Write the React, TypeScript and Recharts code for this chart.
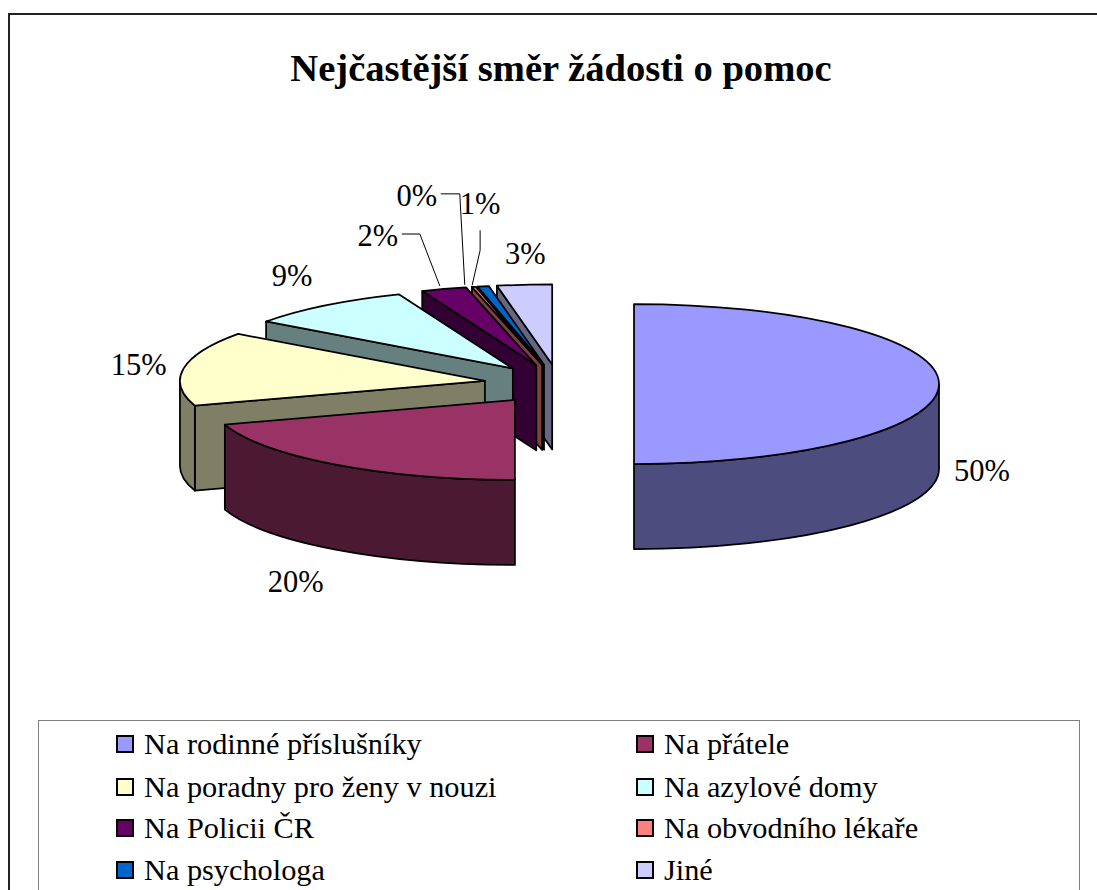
import { PieChart, Pie, Legend } from 'recharts'

const categories = [
  'Na rodinné příslušníky',
  'Na přátele',
  'Na poradny pro ženy v nouzi',
  'Na azylové domy',
  'Na Policii ČR',
  'Na obvodního lékaře',
  'Na psychologa',
  'Jiné',
]
const shares = [50, 20, 15, 8.9, 2.4, 0.2, 0.6, 2.9]
const colors = ['#9999FF', '#993366', '#FFFFCC', '#CCFFFF', '#660066', '#FF8080', '#0066CC', '#CCCCFF']

// Label offset from the rim point at the slice's mid angle
const labelNudge: Record<string, [number, number]> = {
  'Na rodinné příslušníky': [43, 87],
  'Na přátele': [-40, 117],
  'Na poradny pro ženy v nouzi': [-45, -3],
  'Na azylové domy': [-33, -29],
  'Na Policii ČR': [-66, -53],
  'Na obvodního lékaře': [-57, -91],
  'Na psychologa': [-3, -82],
  'Jiné': [1, -31],
}
const leaders: Record<string, [number, number][]> = {
  'Na Policii ČR': [[-42, -55], [-24, -55], [-4, -3]],
  'Na obvodního lékaře': [[-33, -93], [-14, -93], [-9, -2]],
  'Na psychologa': [[-3, -56], [-3, -36], [-11, -1]],
}

const RADIUS = 305
const TILT = 80 / 305
const DEPTH = 85
const EXPLODE = 75
const SERIF = '"Liberation Serif", "Times New Roman", serif'

// Reversed order and counter-clockwise sweep: same picture, but back slices paint first
const pieData = categories
  .map((name, i) => ({ name, value: shares[i], fill: colors[i] }))
  .reverse()

const rad = (deg: number) => (deg * Math.PI) / 180

const halve = (hex: string) => {
  const n = parseInt(hex.slice(1), 16)
  const part = (s: number) => Math.floor(((n >> s) & 255) / 2).toString(16).padStart(2, '0')
  return `#${part(16)}${part(8)}${part(0)}`
}

function Slice3D(props: any) {
  const { cx, cy, startAngle, endAngle, fill } = props
  const sweep = Math.abs(endAngle - startAngle)
  // angles clockwise from 12 o'clock
  let t0 = 90 - Math.max(startAngle, endAngle)
  t0 = ((t0 % 360) + 360) % 360
  const t1 = t0 + sweep
  const mid = t0 + sweep / 2
  const ox = cx + EXPLODE * Math.sin(rad(mid))
  const oy = cy - EXPLODE * TILT * Math.cos(rad(mid))
  const at = (t: number, drop = 0): [number, number] => [
    ox + RADIUS * Math.sin(rad(t)),
    oy - RADIUS * TILT * Math.cos(rad(t)) + drop,
  ]
  const arc = (to: [number, number], big: boolean, cw: boolean) =>
    `A ${RADIUS} ${RADIUS * TILT} 0 ${big ? 1 : 0} ${cw ? 1 : 0} ${to[0]} ${to[1]}`
  const wall = halve(fill)
  const line = { stroke: '#000', strokeWidth: 1.75, strokeLinejoin: 'round' as const }

  const face = (t: number) => {
    const p = at(t)
    const q = at(t, DEPTH)
    return `M ${ox} ${oy} L ${p[0]} ${p[1]} L ${q[0]} ${q[1]} L ${ox} ${oy + DEPTH} Z`
  }
  const rimFrom = Math.max(t0, 90)
  const rimTo = Math.min(t1, 270)
  const rim =
    rimTo > rimFrom
      ? `M ${at(rimFrom).join(' ')} ${arc(at(rimTo), false, true)} L ${at(rimTo, DEPTH).join(' ')} ${arc(at(rimFrom, DEPTH), false, false)} Z`
      : null

  return (
    <g>
      {Math.sin(rad(t0)) < -0.001 && <path d={face(t0)} fill={wall} {...line} />}
      {Math.sin(rad(t1)) > 0.001 && <path d={face(t1)} fill={wall} {...line} />}
      {rim && <path d={rim} fill={wall} {...line} />}
      <path
        d={`M ${ox} ${oy} L ${at(t0).join(' ')} ${arc(at(t1), sweep > 180, true)} Z`}
        fill={fill}
        {...line}
      />
    </g>
  )
}

function renderLabel(props: any) {
  const { cx, cy, midAngle, percent, name } = props
  const t = rad(90 - midAngle)
  const rx = cx + (RADIUS + EXPLODE) * Math.sin(t)
  const ry = cy - (RADIUS + EXPLODE) * TILT * Math.cos(t)
  const [dx, dy] = labelNudge[name]
  const path = leaders[name]
  return (
    <g>
      {path && (
        <polyline
          points={path.map(([a, b]) => `${rx + a},${ry + b}`).join(' ')}
          fill="none"
          stroke="#000"
          strokeWidth={1}
        />
      )}
      <text
        x={rx + dx}
        y={ry + dy}
        textAnchor="middle"
        dominantBaseline="central"
        fontFamily={SERIF}
        fontSize={30.5}
        fill="#000"
      >
        {`${Math.round(percent * 100)}%`}
      </text>
    </g>
  )
}

function ChartLegend() {
  return (
    <div
      style={{
        boxSizing: 'border-box',
        width: 1042,
        height: 200,
        border: '1px solid #808080',
        background: '#fff',
        position: 'relative',
        fontFamily: SERIF,
        fontSize: 30.3,
        color: '#000',
      }}
    >
      {categories.map((name, i) => (
        <div
          key={name}
          style={{
            position: 'absolute',
            left: i % 2 === 0 ? 77 : 597,
            top: [23, 23, 66, 66, 107, 107, 149, 149][i] - 20,
            height: 40,
            display: 'flex',
            alignItems: 'center',
            whiteSpace: 'nowrap',
          }}
        >
          <span
            style={{
              boxSizing: 'border-box',
              width: 18,
              height: 18,
              background: colors[i],
              border: '2px solid #000',
              marginRight: 10,
            }}
          />
          {name}
        </div>
      ))}
    </div>
  )
}

export default function App() {
  return (
    <div
      style={{
        position: 'absolute',
        left: 0,
        top: 0,
        width: 1097,
        height: 890,
        overflow: 'hidden',
        background: '#fff',
      }}
    >
      <div
        style={{
          position: 'absolute',
          left: 8,
          top: 13,
          width: 1200,
          height: 1000,
          borderLeft: '2px solid #222',
          borderTop: '2px solid #222',
        }}
      />
      <PieChart
        width={1097}
        height={890}
        margin={{ top: 0, right: 0, bottom: 0, left: 0 }}
        style={{ position: 'absolute', left: 0, top: 0 }}
      >
        <text
          x={561}
          y={68}
          textAnchor="middle"
          dominantBaseline="central"
          fontFamily={SERIF}
          fontWeight="bold"
          fontSize={38.6}
          fill="#000"
        >
          Nejčastější směr žádosti o pomoc
        </text>
        <Pie
          data={pieData}
          dataKey="value"
          nameKey="name"
          cx={559}
          cy={384}
          outerRadius={RADIUS}
          startAngle={90}
          endAngle={450}
          stroke="#000"
          shape={Slice3D}
          label={renderLabel}
          labelLine={false}
          isAnimationActive={false}
        />
        <Legend
          content={<ChartLegend />}
          wrapperStyle={{ left: 38, top: 720, bottom: 'auto', width: 1042, height: 200 }}
        />
      </PieChart>
    </div>
  )
}
